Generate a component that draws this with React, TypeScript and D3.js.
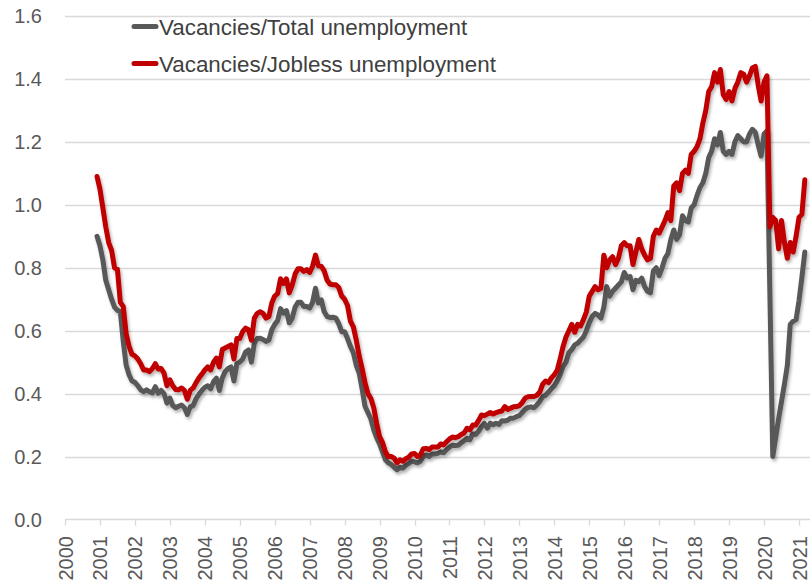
import React, { useEffect, useRef } from 'react';
import * as d3 from 'd3';

// monthly series, Dec 2000 .. Mar 2021
const startYear = 2000;
const startMonth = 11; // December (0-based)

const yearTicks = d3.range(2000, 2022);
const valueTicks = [0, 0.2, 0.4, 0.6, 0.8, 1.0, 1.2, 1.4, 1.6];

const seriesNames = ['Vacancies/Total unemployment', 'Vacancies/Jobless unemployment'];
const seriesColors = ['#595959', '#C00000'];

const totalRatio = [
  0.9,
  0.87, 0.825, 0.76, 0.73, 0.7, 0.675, 0.665, 0.66, 0.566, 0.49, 0.46, 0.44,
  0.436, 0.425, 0.412, 0.406, 0.412, 0.406, 0.402, 0.422, 0.401, 0.41, 0.4, 0.37,
  0.386, 0.362, 0.355, 0.36, 0.364, 0.355, 0.334, 0.358, 0.362, 0.384, 0.398, 0.41,
  0.42, 0.425, 0.415, 0.438, 0.449, 0.41, 0.45, 0.47, 0.48, 0.485, 0.44, 0.495,
  0.5, 0.51, 0.532, 0.539, 0.5, 0.56, 0.575, 0.576, 0.572, 0.566, 0.57, 0.603,
  0.62, 0.632, 0.67, 0.656, 0.664, 0.625, 0.64, 0.675, 0.69, 0.69, 0.677, 0.677,
  0.672, 0.69, 0.735, 0.688, 0.698, 0.66, 0.645, 0.642, 0.643, 0.64, 0.622, 0.597,
  0.597, 0.575, 0.55, 0.53, 0.49, 0.465, 0.415, 0.36, 0.34, 0.32, 0.285, 0.26,
  0.24, 0.215, 0.19, 0.18, 0.175, 0.166, 0.158, 0.166, 0.163, 0.172, 0.178, 0.185,
  0.183, 0.18, 0.185, 0.2, 0.205, 0.2, 0.208, 0.208, 0.21, 0.215, 0.212, 0.222,
  0.23, 0.236, 0.235, 0.236, 0.243, 0.25, 0.258, 0.253, 0.272, 0.27, 0.28, 0.295,
  0.305, 0.29, 0.306, 0.301, 0.306, 0.302, 0.314, 0.313, 0.316, 0.322, 0.322, 0.327,
  0.33, 0.34, 0.35, 0.356, 0.358, 0.355, 0.364, 0.375, 0.39, 0.395, 0.405, 0.415,
  0.425, 0.44, 0.46, 0.486, 0.5, 0.53, 0.54, 0.555, 0.56, 0.57, 0.58, 0.6,
  0.625, 0.645, 0.655, 0.65, 0.64, 0.675, 0.74, 0.71, 0.725, 0.735, 0.745, 0.755,
  0.785, 0.767, 0.772, 0.73, 0.76, 0.756, 0.767, 0.74, 0.725, 0.72, 0.79, 0.8,
  0.775, 0.8, 0.83, 0.845, 0.89, 0.92, 0.89, 0.905, 0.965, 0.95, 0.945, 0.99,
  1.0, 1.03, 1.055, 1.07, 1.1, 1.15, 1.17, 1.21, 1.19, 1.23, 1.17, 1.16,
  1.17, 1.16, 1.2, 1.22, 1.21, 1.2, 1.2, 1.225, 1.24, 1.23, 1.19, 1.155,
  1.225, 1.235, 0.72, 0.2, 0.26, 0.32, 0.375, 0.43, 0.49, 0.62, 0.63, 0.635,
  0.695, 0.77, 0.85,
];

const joblessRatio = [
  1.09,
  1.05, 0.99, 0.93, 0.88, 0.855, 0.8, 0.795, 0.69, 0.677, 0.59, 0.55, 0.525,
  0.52, 0.51, 0.495, 0.475, 0.475, 0.47, 0.48, 0.495, 0.478, 0.48, 0.465, 0.425,
  0.444, 0.425, 0.413, 0.412, 0.418, 0.41, 0.382, 0.41, 0.418, 0.435, 0.45, 0.462,
  0.475, 0.485, 0.475, 0.5, 0.513, 0.485, 0.54, 0.545, 0.55, 0.555, 0.51, 0.575,
  0.575, 0.597, 0.608, 0.603, 0.57, 0.64, 0.655, 0.66, 0.655, 0.64, 0.645, 0.688,
  0.71, 0.718, 0.765, 0.75, 0.765, 0.72, 0.745, 0.78, 0.797, 0.797, 0.788, 0.794,
  0.785, 0.805, 0.84, 0.806, 0.804, 0.79, 0.76, 0.748, 0.746, 0.746, 0.737, 0.71,
  0.7, 0.68, 0.63, 0.612, 0.57, 0.52, 0.48, 0.435, 0.4, 0.385, 0.355, 0.306,
  0.263, 0.245, 0.215, 0.2, 0.2, 0.195, 0.18, 0.19, 0.185, 0.193, 0.198, 0.208,
  0.21, 0.2, 0.205, 0.225, 0.226, 0.222, 0.23, 0.23, 0.23, 0.24, 0.237, 0.247,
  0.256, 0.262, 0.26, 0.263, 0.27, 0.275, 0.29, 0.285, 0.3, 0.3, 0.315, 0.332,
  0.33, 0.335, 0.34, 0.335, 0.34, 0.343, 0.345, 0.359, 0.35, 0.354, 0.358, 0.359,
  0.362, 0.372, 0.386, 0.39, 0.391, 0.391, 0.395, 0.405, 0.43, 0.44, 0.435, 0.45,
  0.46, 0.475, 0.51, 0.55, 0.58, 0.6, 0.62, 0.595, 0.62, 0.615, 0.635, 0.66,
  0.71, 0.725, 0.74, 0.73, 0.735, 0.84, 0.8, 0.825, 0.835, 0.81, 0.83, 0.87,
  0.88, 0.87, 0.87, 0.81, 0.85, 0.89, 0.86, 0.84, 0.825, 0.83, 0.9, 0.92,
  0.91, 0.93, 0.95, 0.975, 0.95, 1.06, 1.07, 1.045, 1.1, 1.11, 1.1, 1.16,
  1.17, 1.185, 1.21, 1.26, 1.3, 1.36, 1.375, 1.42, 1.39, 1.43, 1.35, 1.335,
  1.36, 1.33, 1.37, 1.39, 1.42, 1.415, 1.39, 1.41, 1.435, 1.44, 1.38, 1.33,
  1.39, 1.41, 0.93, 0.96, 0.95, 0.86, 0.95, 0.88, 0.83, 0.88, 0.85, 0.9,
  0.96, 0.97, 1.08,
];

const WIDTH = 810;
const HEIGHT = 588;
const FONT = '"Liberation Sans", Arial, sans-serif';

const App: React.FC = () => {
  const svgRef = useRef<SVGSVGElement | null>(null);

  useEffect(() => {
    const svg = d3.select(svgRef.current!);
    svg.selectAll('*').remove();

    const left = 65;
    const x = d3.scaleLinear().domain([2000, 2021]).range([left, 799]);
    const y = d3.scaleLinear().domain([0, 1.6]).range([519.5, 16]);
    const right = WIDTH;

    // soft shadow under the lines
    const defs = svg.append('defs');
    const filter = defs
      .append('filter')
      .attr('id', 'shadow')
      .attr('x', '-5%')
      .attr('y', '-5%')
      .attr('width', '110%')
      .attr('height', '110%');
    filter
      .append('feDropShadow')
      .attr('dx', 1.5)
      .attr('dy', 2.5)
      .attr('stdDeviation', 1.5)
      .attr('flood-color', '#000')
      .attr('flood-opacity', 0.3);

    // gridlines
    svg
      .append('g')
      .selectAll('line')
      .data(valueTicks.slice(1))
      .enter()
      .append('line')
      .attr('x1', left)
      .attr('x2', right)
      .attr('y1', (d) => Math.round(y(d)) + 0.5)
      .attr('y2', (d) => Math.round(y(d)) + 0.5)
      .attr('stroke', '#d9d9d9')
      .attr('stroke-width', 1.3);

    // y labels
    svg
      .append('g')
      .selectAll('text')
      .data(valueTicks)
      .enter()
      .append('text')
      .attr('x', 42)
      .attr('y', (d) => y(d) + 7)
      .attr('text-anchor', 'end')
      .attr('font-family', FONT)
      .attr('font-size', 20)
      .attr('fill', '#595959')
      .text((d) => d.toFixed(1));

    // x axis
    const xAxis = svg.append('g');
    xAxis
      .append('line')
      .attr('x1', left)
      .attr('x2', right)
      .attr('y1', y(0))
      .attr('y2', y(0))
      .attr('stroke', '#d9d9d9')
      .attr('stroke-width', 1.3);
    xAxis
      .selectAll('line.tick')
      .data(yearTicks)
      .enter()
      .append('line')
      .attr('class', 'tick')
      .attr('x1', (d) => Math.round(x(d)) + 0.5)
      .attr('x2', (d) => Math.round(x(d)) + 0.5)
      .attr('y1', y(0))
      .attr('y2', y(0) + 6)
      .attr('stroke', '#d9d9d9')
      .attr('stroke-width', 1.3);
    xAxis
      .selectAll('text')
      .data(yearTicks)
      .enter()
      .append('text')
      .attr('transform', (d) => `translate(${x(d) + 7.5}, 536) rotate(-90)`)
      .attr('text-anchor', 'end')
      .attr('font-family', FONT)
      .attr('font-size', 20)
      .attr('fill', '#595959')
      .text((d) => String(d));

    // series lines
    const toPoints = (vals: number[]) =>
      vals.map((v, i) => {
        const m = startMonth + i;
        return { t: startYear + Math.floor(m / 12) + (m % 12) / 12, v };
      });

    const line = d3
      .line<{ t: number; v: number }>()
      .x((d) => x(d.t))
      .y((d) => y(d.v));

    [totalRatio, joblessRatio].forEach((vals, i) => {
      svg
        .append('path')
        .datum(toPoints(vals))
        .attr('d', line)
        .attr('fill', 'none')
        .attr('stroke', seriesColors[i])
        .attr('stroke-width', 5)
        .attr('stroke-linejoin', 'round')
        .attr('stroke-linecap', 'round')
        .attr('filter', 'url(#shadow)');
    });

    // legend
    const legend = svg.append('g');
    seriesNames.forEach((name, i) => {
      const ly = 26.5 + i * 37;
      legend
        .append('line')
        .attr('x1', 134)
        .attr('x2', 156)
        .attr('y1', ly)
        .attr('y2', ly)
        .attr('stroke', seriesColors[i])
        .attr('stroke-width', 5)
        .attr('stroke-linecap', 'round');
      legend
        .append('text')
        .attr('x', 159)
        .attr('y', ly + 8)
        .attr('font-family', FONT)
        .attr('font-size', 22.4)
        .attr('fill', '#404040')
        .text(name);
    });
  }, []);

  return (
    <svg
      ref={svgRef}
      width={WIDTH}
      height={HEIGHT}
      style={{ position: 'absolute', left: 0, top: 0, background: '#fff' }}
    />
  );
};

export default App;
